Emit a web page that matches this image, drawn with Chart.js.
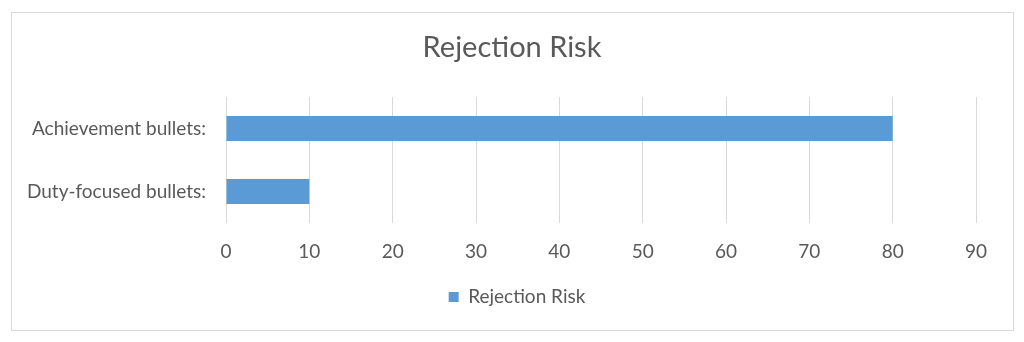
<!DOCTYPE html>
<html>
<head>
<meta charset="utf-8">
<script src="https://cdn.jsdelivr.net/npm/chart.js@4/dist/chart.umd.min.js"></script>
<style>
    html, body { margin: 0; padding: 0; background: #fff; }
    #frame {
        position: absolute;
        left: 11px; top: 12px;
        width: 1001px; height: 317px;
        border: 1px solid #d9d9d9;
    }
    #chart { position: absolute; left: 0; top: 0; }
</style>
</head>
<body>
<div id="frame"></div>
<canvas id="chart" width="1024" height="342"></canvas>
<script>
const categories = ['Achievement bullets:', 'Duty-focused bullets:'];
const riskValues = [80, 10];
const seriesName = 'Rejection Risk';
const tickValues = [0, 10, 20, 30, 40, 50, 60, 70, 80, 90];

const textColor = '#595959';
const fontFamily = 'Lato, "Open Sans", sans-serif';

// title and legend are centred on the whole page, not on the padded area
const centreBlocks = {
    id: 'centreBlocks',
    afterLayout(chart) {
        if (chart.titleBlock) {
            chart.titleBlock.left = 0;
            chart.titleBlock.right = chart.width;
        }
        if (chart.legend) {
            chart.legend.left = 11;
            chart.legend.right = chart.width - 1;
        }
    }
};

document.addEventListener('DOMContentLoaded', function() {
    const ctx = document.getElementById('chart').getContext('2d');
    new Chart(ctx, {
        type: 'bar',
        data: {
            labels: categories,
            datasets: [{
                label: seriesName,
                data: riskValues,
                backgroundColor: '#5b9bd5',
                borderWidth: 0,
                categoryPercentage: 0.8,
                barPercentage: 0.5
            }]
        },
        options: {
            indexAxis: 'y',
            responsive: false,
            animation: false,
            layout: {
                padding: { left: 11, right: 48, top: 12, bottom: 25.5 }
            },
            scales: {
                x: {
                    min: tickValues[0],
                    max: tickValues[tickValues.length - 1],
                    afterBuildTicks: scale => {
                        scale.ticks = tickValues.map(v => ({ value: v }));
                    },
                    afterFit: scale => { scale.height = 54.5; },
                    grid: { color: '#d9d9d9', lineWidth: 1, drawTicks: false },
                    border: { display: false },
                    ticks: {
                        color: textColor,
                        padding: 17,
                        font: { family: fontFamily, size: 19 }
                    }
                },
                y: {
                    afterFit: scale => { scale.width = 215; },
                    grid: { display: false, drawTicks: false },
                    border: { display: false },
                    ticks: {
                        color: textColor,
                        padding: 20,
                        font: { family: fontFamily, size: 19 }
                    }
                }
            },
            plugins: {
                title: {
                    display: true,
                    text: seriesName,
                    color: textColor,
                    font: { family: fontFamily, size: 29, weight: 'normal' },
                    padding: { top: 18.6, bottom: 31.6 }
                },
                legend: {
                    position: 'bottom',
                    labels: {
                        color: textColor,
                        boxWidth: 10,
                        boxHeight: 10,
                        padding: 10,
                        font: { family: fontFamily, size: 19 }
                    }
                },
                tooltip: { enabled: false }
            }
        },
        plugins: [centreBlocks]
    });
});
</script>
</body>
</html>
